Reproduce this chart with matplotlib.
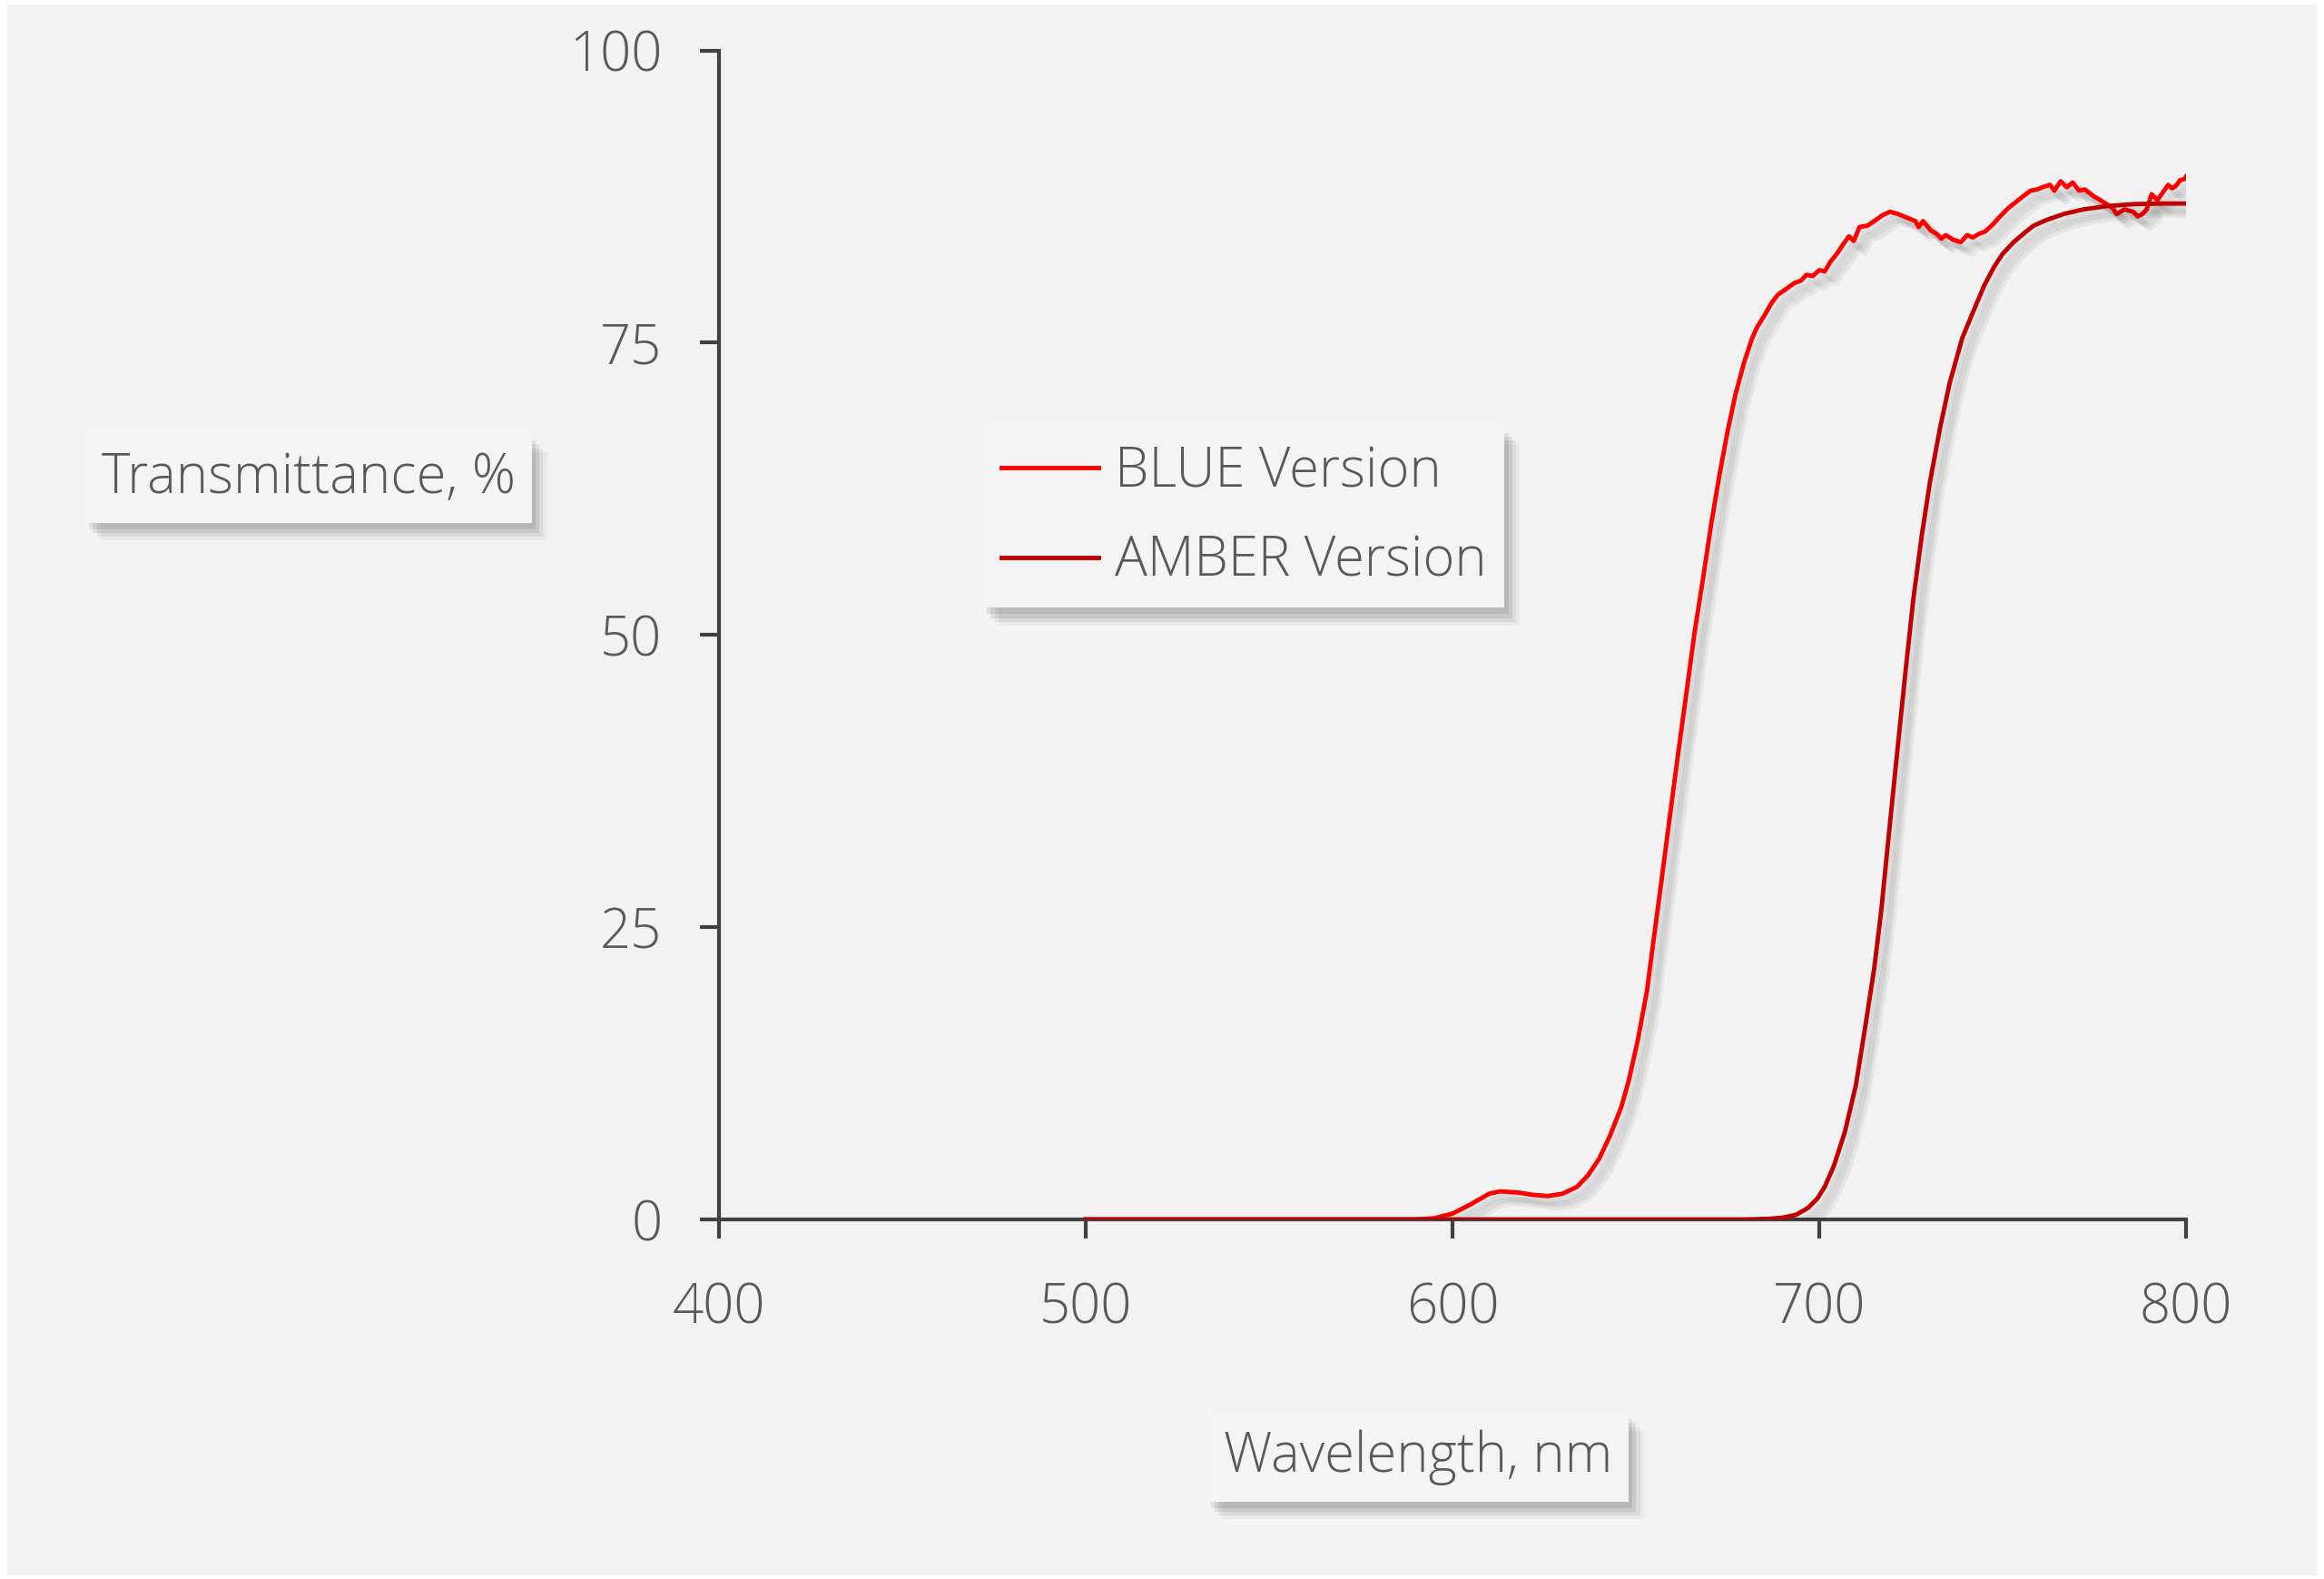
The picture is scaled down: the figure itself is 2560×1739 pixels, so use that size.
import matplotlib
matplotlib.use("Agg")
import matplotlib.pyplot as plt
import matplotlib.patheffects as pe
from matplotlib.patches import Rectangle

# BLUE version transmittance
blue_nm = [500, 590, 595, 600, 605, 610, 613, 618, 622, 626, 630, 634, 637, 640,
           643, 646, 648, 650.5, 653, 655, 657, 659.4, 661.5, 663.9, 666, 668.3,
           670.5, 672.8, 675, 677.1, 679.5, 681.6, 683, 685, 687, 688.7, 691,
           693.2, 695, 696.5, 698.2, 700, 701.5, 703, 704.8, 706.5, 708.1, 709.4,
           711, 713.1, 715, 717.2, 719.3, 721.5, 723.8, 726.2, 727.1, 728.3,
           730.4, 732, 733.3, 734.5, 736.5, 738.6, 740.3, 741.9, 743.5, 745.2,
           747.3, 749.3, 751.5, 753.5, 755.5, 757.6, 759.3, 760.9, 762.9, 764.1,
           765.8, 767.5, 769.1, 770.8, 772.4, 774.9, 776.6, 778.6, 780, 781.1,
           783.2, 785.6, 786.8, 788.1, 789.3, 790.6, 792.2, 793.8, 795.1, 796.2,
           797.2, 798.4, 799.6, 800]
blue_t = [0, 0, 0.1, 0.5, 1.3, 2.2, 2.4, 2.3, 2.1, 2.0, 2.2, 2.8, 3.8, 5.2,
          7.2, 9.6, 11.8, 15.3, 19.5, 24.3, 29.0, 34.8, 39.8, 45.3, 50.2, 54.8,
          59.4, 63.7, 67.4, 70.5, 73.3, 75.3, 76.3, 77.3, 78.4, 79.1, 79.6,
          80.1, 80.3, 80.8, 80.7, 81.2, 81.1, 81.9, 82.6, 83.4, 84.1, 83.7,
          84.9, 85.0, 85.4, 85.9, 86.2, 86.0, 85.7, 85.4, 84.9, 85.4,
          84.6, 84.3, 83.9, 84.2, 83.8, 83.6, 84.2, 84.0, 84.3, 84.5,
          85.1, 85.8, 86.5, 87.0, 87.5, 88.0, 88.1, 88.3, 88.5, 88.0,
          88.8, 88.3, 88.7, 88.0, 88.1, 87.5, 87.2, 86.8, 86.5, 86.0,
          86.4, 86.2, 85.8, 86.0, 86.4, 87.7, 87.2, 87.9, 88.5, 88.2,
          88.4, 88.9, 89.0, 89.2]

# AMBER version transmittance
amber_nm = [500, 680, 686, 690, 693.7, 697, 699.5, 701.5, 704, 707, 710, 712.5,
            715, 716.9, 719, 721.3, 723.5, 725.7, 728, 730.2, 733, 735.6, 739,
            742.3, 745, 747.7, 750, 753, 756, 758.4, 762, 766.6, 772, 779, 786,
            793, 800]
amber_t = [0, 0, 0.05, 0.15, 0.4, 1.0, 1.8, 2.8, 4.6, 7.5, 11.5, 16.4,
           21.5, 26.4, 33.0, 40.1, 46.8, 53.2, 58.6, 63.1, 67.8, 71.6, 75.4,
           77.9, 79.9, 81.5, 82.6, 83.6, 84.4, 85.0, 85.5, 86.0, 86.4, 86.7, 86.85,
           86.9, 86.9]

x_ticks = [400, 500, 600, 700, 800]
y_ticks = [0, 25, 50, 75, 100]

BG = "#f2f2f2"
TXT = "#595959"
AXC = "#404040"
FONT = "Open Sans"
FS = 43

plt.rcParams["font.family"] = [FONT, "DejaVu Sans"]
plt.rcParams["font.weight"] = "light"

W, H = 2560, 1739
fig = plt.figure(figsize=(W / 100, H / 100), dpi=100, facecolor="white")
fig.patches.append(Rectangle((8 / W, 4 / H), (W - 16) / W, (H - 9) / H,
                             transform=fig.transFigure, facecolor=BG,
                             edgecolor="none", zorder=-10))

ax = fig.add_axes([792 / W, 1 - 1343 / H, (2408 - 792) / W, (1343 - 55.5) / H])
ax.set_facecolor("none")

# soft shadow: a few offset copies with low alpha
line_shadow = [pe.SimpleLineShadow(offset=(o, -o), shadow_color="black", alpha=0.05, linewidth=w)
               for o, w in [(3, 7), (5, 6), (7, 5), (9, 5)]] + [pe.Normal()]
ax.plot(blue_nm, blue_t, color="#ff0000", lw=3.5, label="BLUE Version",
        path_effects=line_shadow, solid_joinstyle="round")
ax.plot(amber_nm, amber_t, color="#c00000", lw=3.5, label="AMBER Version",
        path_effects=line_shadow, solid_joinstyle="round")

ax.set_xlim(400, 800)
ax.set_ylim(0, 100)
ax.set_xticks(x_ticks)
ax.set_yticks(y_ticks)
for s in ["top", "right"]:
    ax.spines[s].set_visible(False)
for s in ["left", "bottom"]:
    ax.spines[s].set_color(AXC)
    ax.spines[s].set_linewidth(3)
    ax.spines[s].set_zorder(0.5)
ax.tick_params(axis="both", colors=AXC, labelcolor=TXT, labelsize=FS,
               length=15, width=3)
ax.tick_params(axis="x", pad=34)
ax.tick_params(axis="y", pad=30)

box_shadow = [pe.SimplePatchShadow(offset=(o, -o - 2), shadow_rgbFace="black", alpha=a)
              for o, a in [(12, 0.04), (9, 0.06), (6, 0.08), (3, 0.08)]] + [pe.Normal()]

ylab = fig.text(340 / W, 1 - 527 / H, "Transmittance, %", fontsize=FS, color=TXT,
                ha="center", va="center",
                bbox=dict(boxstyle="square,pad=0.3", facecolor="#f4f4f4", edgecolor="none"))
xlab = fig.text(1562 / W, 1 - 1605 / H, "Wavelength, nm", fontsize=FS, color=TXT,
                ha="center", va="center",
                bbox=dict(boxstyle="square,pad=0.3", facecolor="#f4f4f4", edgecolor="none"))
fig.canvas.draw()
ylab.get_bbox_patch().set_path_effects(box_shadow)
xlab.get_bbox_patch().set_path_effects(box_shadow)

leg = ax.legend(loc="upper left", bbox_to_anchor=(1083 / W, 1 - 470 / H),
                bbox_transform=fig.transFigure, fontsize=FS, frameon=True,
                fancybox=False, borderaxespad=0, handlelength=1.8,
                handletextpad=0.3, labelspacing=0.62, borderpad=0.33)
for t in leg.get_texts():
    t.set_color(TXT)
fr = leg.get_frame()
fr.set_facecolor("#f4f4f4")
fr.set_edgecolor("none")
fr.set_alpha(1)
fr.set_path_effects(box_shadow)
for h in leg.get_lines():
    h.set_path_effects([pe.Normal()])

fig.savefig("out.png", dpi=100, facecolor=fig.get_facecolor())
